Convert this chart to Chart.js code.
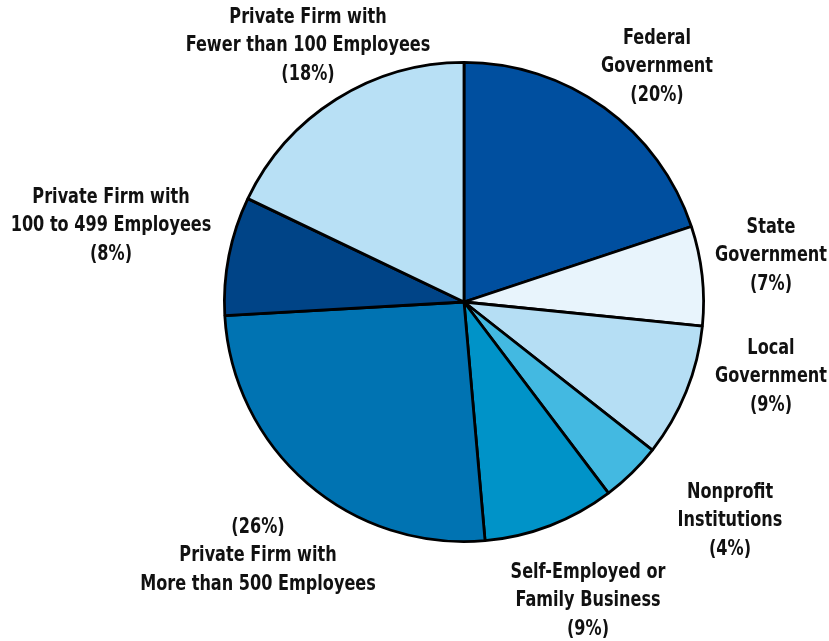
<!DOCTYPE html>
<html>
<head>
<meta charset="utf-8">
<script src="https://cdn.jsdelivr.net/npm/chart.js@4.4.1/dist/chart.umd.min.js"></script>
<style>
  html, body { margin: 0; padding: 0; background: #fff; }
  #wrap { width: 829px; height: 641px; position: relative; }
</style>
</head>
<body>
<div id="wrap"><canvas id="pieChart"></canvas></div>
<script>
// data, clockwise from 12 o'clock
const categories = [
  ['Federal', 'Government'],
  ['State', 'Government'],
  ['Local', 'Government'],
  ['Nonprofit', 'Institutions'],
  ['Self-Employed or', 'Family Business'],
  ['Private Firm with', 'More than 500 Employees'],
  ['Private Firm with', '100 to 499 Employees'],
  ['Private Firm with', 'Fewer than 100 Employees']
];
const shares = [19.9, 6.7, 9.0, 4.1, 8.9, 25.5, 8.0, 17.9];
const percentLabels = ['(20%)', '(7%)', '(9%)', '(4%)', '(9%)', '(26%)', '(8%)', '(18%)'];

const sliceColors = ['#004f9f', '#e8f4fc', '#b5def4', '#43b9e1', '#0093c8', '#0073b2', '#004487', '#b8e0f5'];

// where each label block sits (center x, first line y) and whether the % goes first
const labelSpots = [
  { x: 657, y: 38 },
  { x: 771, y: 227 },
  { x: 771, y: 348 },
  { x: 730, y: 492 },
  { x: 588, y: 572 },
  { x: 258, y: 527, pctFirst: true },
  { x: 111, y: 197 },
  { x: 308, y: 17 }
];

const labelPlugin = {
  id: 'sliceLabels',
  afterDraw(chart) {
    const ctx = chart.ctx;
    ctx.save();
    ctx.fillStyle = '#111';
    ctx.font = 'bold 22px "DejaVu Sans Condensed", "DejaVu Sans", sans-serif';
    if ('fontStretch' in ctx) ctx.fontStretch = 'condensed';
    ctx.textAlign = 'center';
    ctx.textBaseline = 'middle';
    // squeeze to the narrow face of the original ("Government" is ~112px wide)
    const sx = Math.min(1, 112 / ctx.measureText('Government').width);
    categories.forEach((lines, i) => {
      const spot = labelSpots[i];
      const all = spot.pctFirst ? [percentLabels[i], ...lines] : [...lines, percentLabels[i]];
      all.forEach((t, k) => {
        ctx.save();
        ctx.translate(spot.x, spot.y + k * 28.5);
        ctx.scale(sx, 1);
        ctx.fillText(t, 0, 0);
        ctx.restore();
      });
    });
    ctx.restore();
  }
};

const pieChart = new Chart(document.getElementById('pieChart'), {
  type: 'pie',
  data: {
    labels: categories.map(c => c.join(' ')),
    datasets: [{
      data: shares,
      backgroundColor: sliceColors,
      borderColor: '#000',
      borderWidth: 2.8
    }]
  },
  options: {
    responsive: true,
    maintainAspectRatio: false,
    animation: false,
    layout: { padding: { top: 61, bottom: 98, left: 223, right: 124 } },
    plugins: {
      legend: { display: false },
      tooltip: { enabled: false }
    }
  },
  plugins: [labelPlugin]
});
</script>
</body>
</html>
